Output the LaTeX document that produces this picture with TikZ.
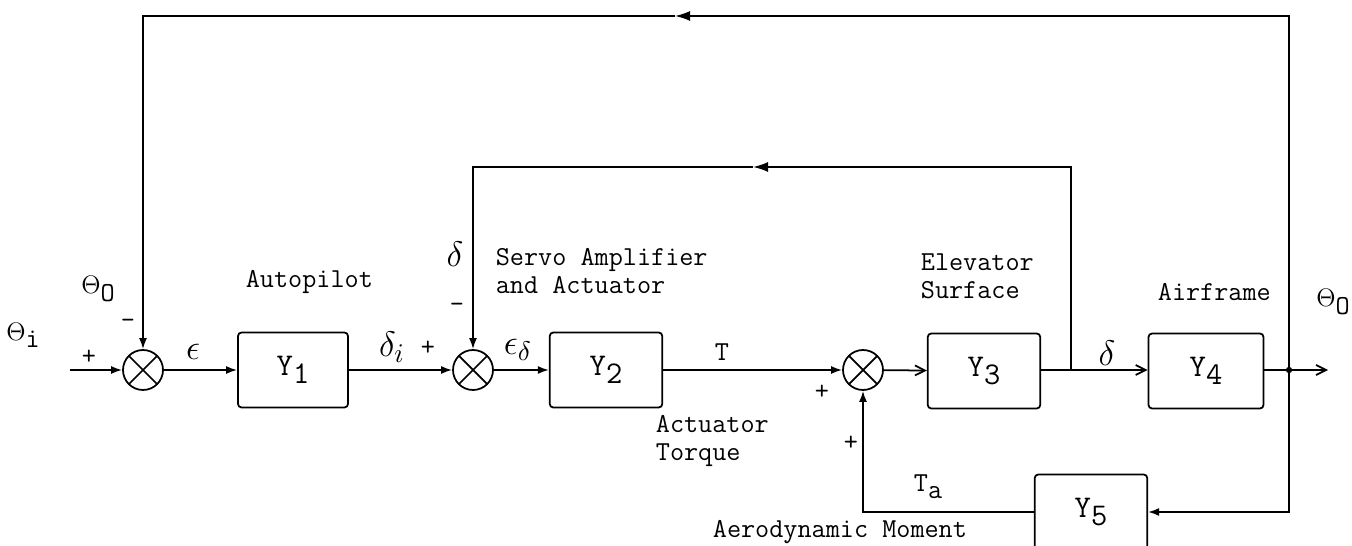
\documentclass[tikz,border=0pt]{standalone}
\usepackage{fontspec}
\usetikzlibrary{arrows.meta}
\newcommand\lsub[1]{\raisebox{-0.6ex}{#1}}
\begin{document}
\begin{tikzpicture}[x=0.02cm,y=-0.02cm,
  font=\ttfamily\fontsize{15.6}{16}\selectfont,
  line width=1pt,
  blk/.style={draw,rounded corners=2pt,minimum width=2.25cm,minimum height=1.5cm,inner sep=0pt,
    font=\ttfamily\fontsize{18}{18}\selectfont},
  sumj/.style={draw,circle,minimum size=0.8cm,inner sep=0pt,
    path picture={\draw[line width=1pt] (path picture bounding box.north west)--(path picture bounding box.south east)
      (path picture bounding box.north east)--(path picture bounding box.south west);}},
  fa/.style={-{Latex[length=0.22cm,width=0.16cm]}},
  ba/.style={-{Latex[length=0.3cm,width=0.2cm]}},
  oa/.style={-{Straight Barb[length=0.2cm,width=0.2cm]}},
  lbl/.style={inner sep=0pt},
  mth/.style={inner sep=0pt,scale=1.4},
  lbw/.style={inner sep=0pt,anchor=west,align=left}]
\useasboundingbox (0,0) rectangle (1352,546);
\clip (0,0) rectangle (1352,546);
% blocks
\node[sumj] (s1) at (143,370) {};
\node[sumj] (s2) at (473,370) {};
\node[sumj] (s3) at (863,370) {};
\node[blk,minimum width=2.2cm] (y1) at (293,370) {Y\lsub{1}};
\node[blk] (y2) at (606,370) {Y\lsub{2}};
\node[blk] (y3) at (984,371) {Y\lsub{3}};
\node[blk,minimum width=2.3cm] (y4) at (1206,371) {Y\lsub{4}};
\node[blk] (y5) at (1091,512) {Y\lsub{5}};
% coordinates
\coordinate (in) at (70,370);
\coordinate (br) at (1071,370);
\coordinate (od) at (1289,370);
\coordinate (oe) at (1328,370);
\coordinate (tA) at (675,16);
\coordinate (mA) at (753,167);
% connectors
\draw[fa] (in) -- (s1);
\draw[fa] (s1) -- (y1);
\draw[fa] (y1) -- (s2);
\draw[fa] (s2) -- (y2);
\draw[fa] (y2) -- (s3);
\draw[oa] (s3) -- (y3);
\draw (y3.east |- br) -- (br);
\draw[oa] (br) -- (y4.west |- br);
\draw (y4.east |- od) -- (od);
\draw[oa] (od) -- (oe);
\fill (od) circle (1.8pt);
\draw[ba] (od) |- (tA);
\draw[fa] (tA) -| (s1.north);
\draw[ba] (br) |- (mA);
\draw[fa] (mA) -| (s2.north);
\draw[fa] (od) |- (y5.east);
\draw[fa] (y5.west) -| (s3.south);
% labels
\node[lbl] (thi) at (23,335) {$\Theta$\lsub{i}};
\node[lbl] (tho1) at (98,289) {$\Theta$\lsub{O}};
\node[lbl] (p1) at (89,357) {+};
\node[lbl] (m1) at (128,324) {-};
\node[mth] (eps) at (193,352) {$\epsilon$};
\node[mth] (di) at (392,347) {$\delta_i$};
\node[lbl] (p2) at (428,348) {+};
\node[mth] (dtop) at (455,254) {$\delta$};
\node[lbl] (m2) at (457,308) {-};
\node[mth] (ed) at (518,350) {$\epsilon_\delta$};
\node[lbl] (tt) at (722,352) {T};
\node[lbl] (p3) at (822,392) {+};
\node[lbl] (p4) at (851,443) {+};
\node[lbl] (ta) at (928,487) {T\lsub{a}};
\node[mth] (dr) at (1107,353) {$\delta$};
\node[lbl] (tho2) at (1333,302) {$\Theta$\lsub{O}};
\node[lbw] (ap) at (245,282) {Autopilot};
\node[lbw] (sa) at (495,271) {Servo Amplifier\\and Actuator};
\node[lbw] (es) at (920,276) {Elevator\\Surface};
\node[lbw] (af) at (1157,292) {Airframe};
\node[lbw] (at) at (655,441) {Actuator\\Torque};
\node[lbw] (am) at (712,532) {Aerodynamic Moment};
\end{tikzpicture}
\end{document}
